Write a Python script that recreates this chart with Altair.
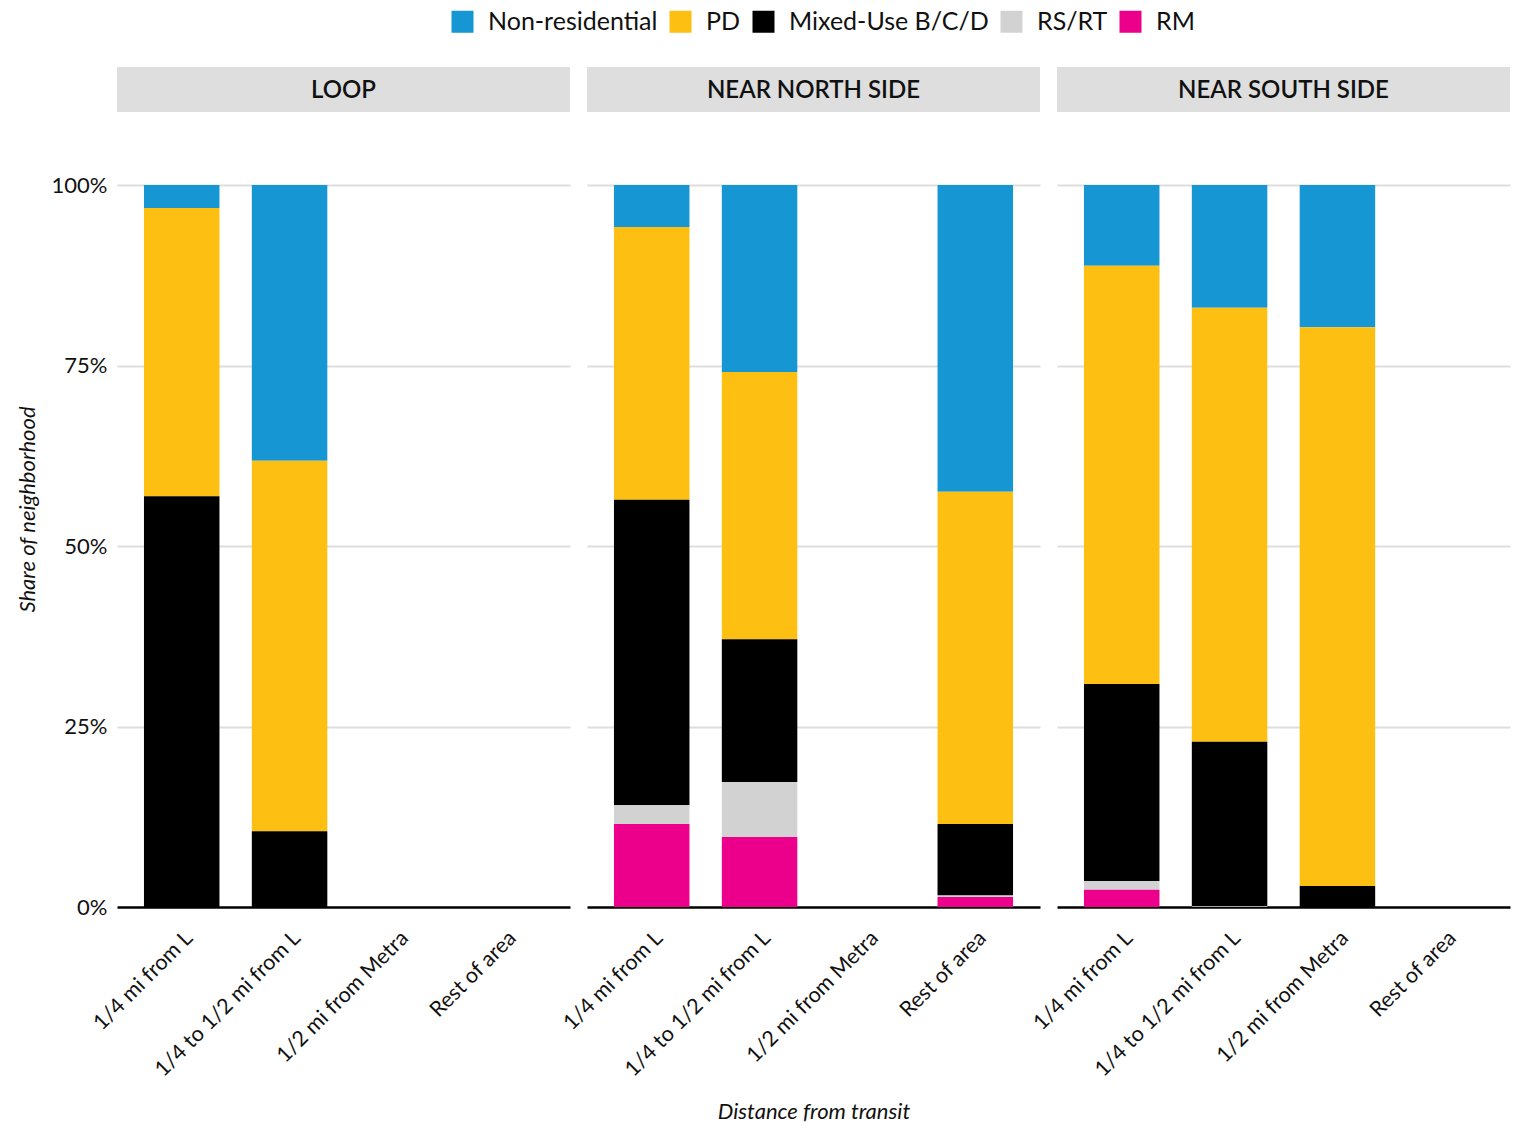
import altair as alt
import pandas as pd

neighborhoods = ["LOOP", "NEAR NORTH SIDE", "NEAR SOUTH SIDE"]
categories = ["1/4 mi from L", "1/4 to 1/2 mi from L", "1/2 mi from Metra", "Rest of area"]
zones = ["Non-residential", "PD", "Mixed-Use B/C/D", "RS/RT", "RM"]
zone_colors = ["#1696d2", "#fdbf11", "#000000", "#d2d2d2", "#ec008b"]

# values (%) ordered: LOOP x4 categories, NEAR NORTH SIDE x4, NEAR SOUTH SIDE x4
non_residential = [3.2, 38.2, 0, 0, 5.8, 25.9, 0, 42.5, 11.2, 17.0, 19.7, 0]
pd_share = [39.9, 51.3, 0, 0, 37.8, 37.0, 0, 46.0, 57.9, 60.1, 77.4, 0]
mixed_use = [56.9, 10.5, 0, 0, 42.3, 19.8, 0, 9.9, 27.3, 22.8, 2.9, 0]
rs_rt = [0, 0, 0, 0, 2.6, 7.6, 0, 0.2, 1.2, 0.1, 0, 0]
rm = [0, 0, 0, 0, 11.5, 9.7, 0, 1.4, 2.4, 0, 0, 0]

series = [non_residential, pd_share, mixed_use, rs_rt, rm]
rows = []
for zi, (zone, vals) in enumerate(zip(zones, series)):
    for i, v in enumerate(vals):
        rows.append({
            "nbhd": neighborhoods[i // 4],
            "cat": categories[i % 4],
            "zone": zone,
            "order": len(zones) - zi,
            "share": v / 100.0,
        })
df = pd.DataFrame(rows)

W = 453
H = 722
FONT = "Lato"

bars = alt.Chart().mark_bar().encode(
    x=alt.X("cat:N", sort=categories, title=None,
            scale=alt.Scale(domain=categories, paddingInner=0.3, paddingOuter=0.25),
            axis=alt.Axis(labelAngle=-45, ticks=False, domainColor="#000000", domainWidth=2.5,
                          labelFontSize=21.5, labelFont=FONT, labelColor="#111111", labelPadding=20,
                          labelLimit=0, grid=False, zindex=1)),
    y=alt.Y("share:Q", stack="zero", title="Share of neighborhood",
            scale=alt.Scale(domain=[0, 1], nice=False),
            axis=alt.Axis(values=[0, 0.25, 0.5, 0.75, 1], format=".0%", ticks=False, domain=False,
                          gridColor=alt.condition("datum.value == 0", alt.value("transparent"),
                                                  alt.value("#dedede")),
                          gridWidth=2, labelFontSize=22, labelFont=FONT,
                          labelColor="#111111", labelPadding=10, titleFont=FONT, titleFontSize=22,
                          titleFontStyle="italic", titleFontWeight="normal", titlePadding=12,
                          titleColor="#111111", titleY=324)),
    color=alt.Color("zone:N", sort=zones,
                    scale=alt.Scale(domain=zones, range=zone_colors),
                    legend=alt.Legend(title=None, orient="none", direction="horizontal",
                                      legendX=333, legendY=-176,
                                      symbolType="square", symbolSize=484, symbolStrokeWidth=0,
                                      labelFontSize=25, labelFont=FONT, labelColor="#111111",
                                      labelLimit=0, labelOffset=13, columnPadding=10)),
    order=alt.Order("order:Q", sort="ascending"),
)

header_rect = alt.Chart().mark_rect(color="#dedede").encode(
    x=alt.value(0), x2=alt.value(W), y=alt.value(-118), y2=alt.value(-73)
).transform_aggregate(n="count()", groupby=["nbhd"])

header_text = alt.Chart().mark_text(font=FONT, fontSize=24, fontWeight=600,
                                    color="#111111", align="center", baseline="middle").encode(
    x=alt.value(W / 2), y=alt.value(-94), text="nbhd:N"
).transform_aggregate(n="count()", groupby=["nbhd"])

chart = alt.layer(bars, header_rect, header_text, data=df).properties(
    width=W, height=H
).facet(
    column=alt.Column("nbhd:N", sort=neighborhoods, title="Distance from transit",
                      header=alt.Header(labels=False, titleOrient="bottom", titleFont=FONT,
                                        titleFontSize=22, titleFontStyle="italic",
                                        titleFontWeight="normal", titleColor="#111111",
                                        titlePadding=11))
).properties(
    spacing=17, padding={"left": 8, "top": 1, "right": 5, "bottom": 5}
).configure(background="white").configure_view(strokeWidth=0, stroke="transparent")

chart.save("out.html", embed_options={"renderer": "svg", "actions": False})
